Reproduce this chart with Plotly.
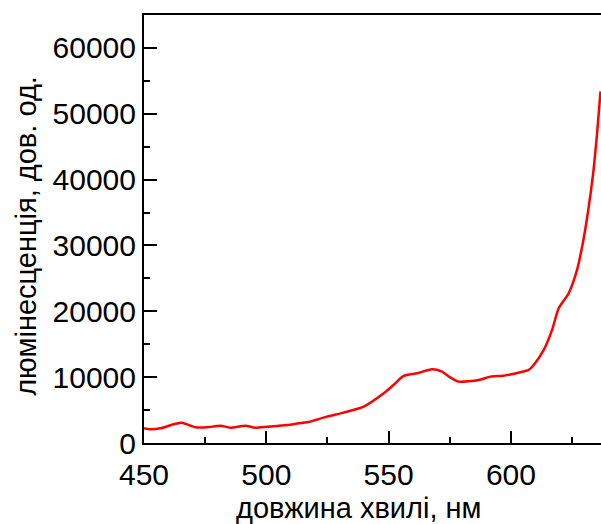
import plotly.graph_objects as go

wavelength = [450, 452.6, 456.7, 462.1, 465.5, 471.0, 475.8, 481.2, 485.3, 491.4, 495.5, 500.3,
              508.5, 513.2, 516.6, 524.8, 531.6, 539.8, 548.0, 552.0, 556.1, 561.6, 567.7, 571.8,
              575.0, 578.6, 586.8, 591.6, 597.0, 605.9, 607.2, 609.3, 613.4, 616.8, 619.5,
              623.6, 627.0, 629.1, 631.4, 633.6, 635.2, 636.6]
luminescence = [2230, 2080, 2230, 2840, 3090, 2380, 2380, 2630, 2330, 2630, 2330, 2480,
                2740, 2990, 3140, 4000, 4610, 5520, 7550, 8800, 10180, 10590, 11200, 10840,
                10000, 9320, 9570, 10080, 10230, 10940, 11090, 11850, 14130, 17170, 20470,
                22750, 26290, 29830, 34900, 40990, 47070, 53390]

x_title = "довжина хвилі, нм"
y_title = "люмінесценція, дов. од."

FONT = "Arial, Liberation Sans, sans-serif"

fig = go.Figure()
fig.add_trace(go.Scatter(x=wavelength, y=luminescence, mode="lines",
                         line=dict(color="#ff0000", width=2.5, shape="spline", smoothing=0.6),
                         showlegend=False, hoverinfo="skip"))

fig.update_layout(
    width=601, height=524,
    margin=dict(l=144, r=0, t=15, b=81),
    paper_bgcolor="white", plot_bgcolor="white",
    font=dict(family=FONT, size=31, color="black"),
    xaxis=dict(range=[450, 636.8], showgrid=False, zeroline=False,
               showline=True, linecolor="black", linewidth=2, mirror=True,
               ticks="inside", ticklen=12, tickwidth=2, tickcolor="black",
               tickvals=[450, 500, 550, 600], ticktext=["450", "500", "550", "600"],
               minor=dict(tickvals=[475, 525, 575, 625], ticks="inside", ticklen=6,
                          tickwidth=2, tickcolor="black"),
               tickfont=dict(family=FONT, size=30, color="black"), ticklabelstandoff=4),
    yaxis=dict(range=[0, 65000], showgrid=False, zeroline=False,
               showline=True, linecolor="black", linewidth=2, mirror=False,
               ticks="inside", ticklen=13, tickwidth=2, tickcolor="black",
               tickvals=[0, 10000, 20000, 30000, 40000, 50000, 60000],
               ticktext=["0", "10000", "20000", "30000", "40000", "50000", "60000"],
               minor=dict(tickvals=[5000, 15000, 25000, 35000, 45000, 55000], ticks="inside",
                          ticklen=6, tickwidth=2, tickcolor="black"),
               tickfont=dict(family=FONT, size=30, color="black")),
    annotations=[
        dict(text=x_title, xref="paper", yref="paper", x=0.470, y=0, yshift=-65,
             xanchor="center", yanchor="middle", showarrow=False,
             font=dict(family=FONT, size=29, color="black")),
        dict(text=y_title, xref="paper", yref="paper", x=0, y=0.484, xshift=-118,
             xanchor="center", yanchor="middle", showarrow=False, textangle=-90,
             font=dict(family=FONT, size=29, color="black")),
    ],
)

fig.write_html("out.html")
